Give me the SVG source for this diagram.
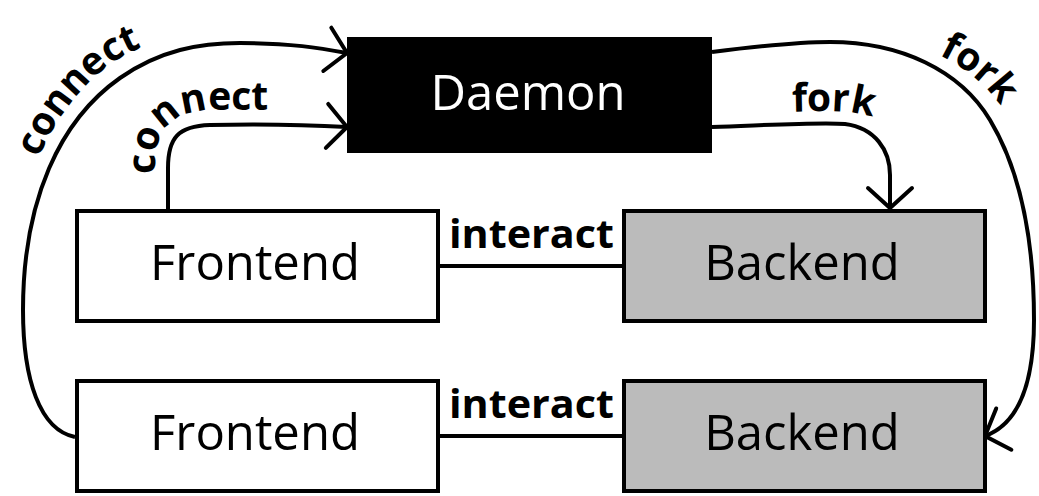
<svg xmlns="http://www.w3.org/2000/svg" width="1039" height="496" viewBox="0 0 1039 496">
<style>
.box{stroke:#000;stroke-width:4}
.lbl{font-family:"Open Sans","Noto Sans","Liberation Sans",sans-serif;font-size:49px;text-anchor:middle}
.edge{fill:none;stroke:#000;stroke-width:4}
.el{font-family:"Open Sans","Noto Sans","Liberation Sans",sans-serif;font-size:39px;font-weight:bold;fill:#000}
</style>
<defs>
<marker id="arr" markerUnits="userSpaceOnUse" viewBox="-30 -30 40 60" refX="0" refY="0" markerWidth="40" markerHeight="60" orient="auto" overflow="visible">
<path d="M-20,-22 L0,0 L-20,22" fill="none" stroke="#000" stroke-width="4" stroke-linecap="round" stroke-linejoin="miter"/>
</marker>
<path id="tp1" d="M8,320 C8,200 46,114 110,64 C148,40 195,27 240,27"/>
<path id="tp2" d="M155,210 L155,165 C155,128 175,110 215,110 L330,110"/>
<path id="tp3" d="M800,30 C880,28 962,48 1002,108 C1022,138 1032,170 1042,210"/>
<path id="tp4" d="M780,112 C820,111 845,110 865,115 C885,121 900,140 905,175"/>
</defs>
<g id="connectors">
<path class="edge" d="M75,437 C40,430 23,380 23,310 C23,200 60,120 120,78 C160,50 200,43 240,43 C290,43 320,48 347,53" marker-end="url(#arr)"/>
<path class="edge" d="M168,210 L168,168 C168,138 178,126 210,125 C260,124 310,125 347,127" marker-end="url(#arr)"/>
<path class="edge" d="M712,52 C760,46 800,42 830,42 C900,42 960,70 990,120 C1020,170 1034,240 1034,320 C1034,390 1015,425 985,436" marker-end="url(#arr)"/>
<path class="edge" d="M712,127 C770,125 820,122 845,124 C875,128 890,150 890,175 L890,208" marker-end="url(#arr)"/>
<line class="edge" x1="440" y1="266" x2="622" y2="266"/>
<line class="edge" x1="440" y1="436" x2="622" y2="436"/>
<text class="el"><textPath href="#tp1" startOffset="166">connect</textPath></text>
<text class="el"><textPath href="#tp2" startOffset="36">connect</textPath></text>
<text class="el"><textPath href="#tp3" startOffset="142">fork</textPath></text>
<text class="el"><textPath href="#tp4" startOffset="12">fork</textPath></text>
<text class="el" x="449" y="248" textLength="165" lengthAdjust="spacingAndGlyphs">interact</text>
<text class="el" x="449" y="418" textLength="165" lengthAdjust="spacingAndGlyphs">interact</text>
</g>
<g id="daemon">
<rect class="box" x="349" y="39" width="361" height="112" fill="#000"/>
<text class="lbl" x="528" y="110" fill="#fff">Daemon</text>
</g>
<g id="frontend1">
<rect class="box" x="77" y="211" width="361" height="110" fill="#fff"/>
<text class="lbl" x="255" y="280">Frontend</text>
</g>
<g id="backend1">
<rect class="box" x="624" y="211" width="361" height="110" fill="#bbbbbb"/>
<text class="lbl" x="802" y="280">Backend</text>
</g>
<g id="frontend2">
<rect class="box" x="77" y="381" width="361" height="110" fill="#fff"/>
<text class="lbl" x="255" y="450">Frontend</text>
</g>
<g id="backend2">
<rect class="box" x="624" y="381" width="361" height="110" fill="#bbbbbb"/>
<text class="lbl" x="802" y="450">Backend</text>
</g>
</svg>
